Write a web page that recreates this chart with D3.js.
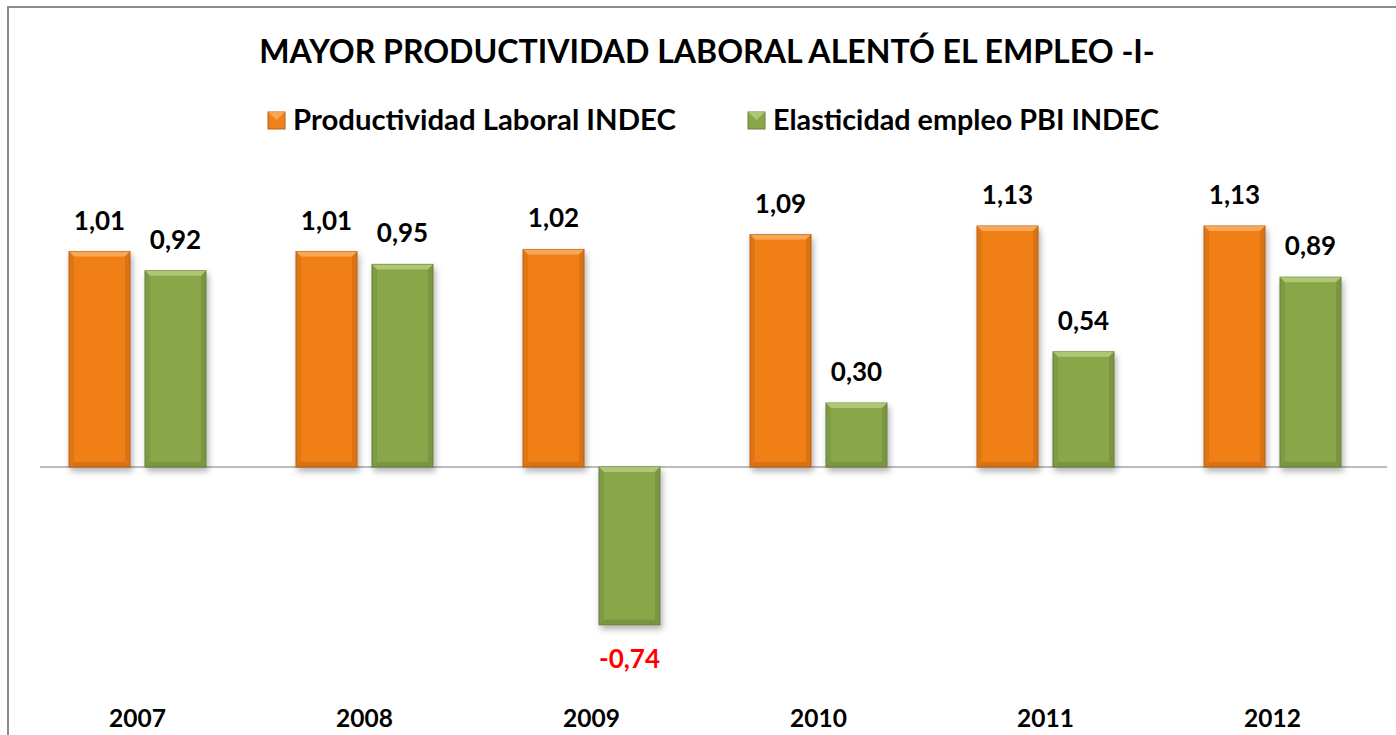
<!DOCTYPE html>
<html>
<head>
<meta charset="utf-8">
<script src="https://cdn.jsdelivr.net/npm/d3@7"></script>
<style>
  body { margin: 0; background: #fff; }
  svg { display: block; font-family: Lato, "Open Sans", sans-serif; }
</style>
</head>
<body>
<svg id="chart" width="1396" height="735"></svg>
<script>
const years = ['2007', '2008', '2009', '2010', '2011', '2012'];
const productividad = [1.01, 1.01, 1.02, 1.09, 1.13, 1.13];
const elasticidad = [0.92, 0.95, -0.74, 0.30, 0.54, 0.89];
const seriesNames = ['Productividad Laboral INDEC', 'Elasticidad empleo PBI INDEC'];
const title = 'MAYOR PRODUCTIVIDAD LABORAL ALENTÓ EL EMPLEO -I-';

const COLORS = ['#f08018', '#89a64a'];
const DARK = ['#b85f10', '#66803a'];
const LIGHT = ['#f8b068', '#b6cf80'];

const svg = d3.select('#chart');
// comma decimals, plain hyphen for negatives
const fmt = (v) => d3.format('.2f')(v).replace('.', ',').replace('\u2212', '-');

const defs = svg.append('defs');
defs.append('filter')
  .attr('id', 'shadow')
  .attr('x', '-20%').attr('y', '-20%').attr('width', '140%').attr('height', '140%')
  .append('feDropShadow')
  .attr('dx', 2).attr('dy', 4).attr('stdDeviation', 3)
  .attr('flood-color', '#000').attr('flood-opacity', 0.3);

// frame
svg.append('rect')
  .attr('x', 8).attr('y', 7).attr('width', 1420).attr('height', 760)
  .attr('fill', 'none').attr('stroke', '#8c8c8c').attr('stroke-width', 2);

const x0 = d3.scaleBand().domain(years).range([24, 1386]);
const x1 = d3.scaleBand().domain([0, 1]).range([45, 182]).paddingInner(0.197);
const y = d3.scaleLinear().domain([0, 1.13]).range([467, 226]);

const data = years.map((yr, i) => ({
  year: yr,
  values: [productividad[i], elasticidad[i]],
}));

// zero line
svg.append('line')
  .attr('x1', 40).attr('x2', 1387)
  .attr('y1', y(0)).attr('y2', y(0))
  .attr('stroke', '#a6a6a6').attr('stroke-width', 1.5);

const groups = svg.append('g')
  .selectAll('g')
  .data(data)
  .join('g')
  .attr('transform', (d) => `translate(${x0(d.year)},0)`);

const bars = groups.selectAll('g.bar')
  .data((d) => d.values.map((v, k) => ({ v, k })))
  .join('g')
  .attr('class', 'bar');

bars.each(function (d) {
  const g = d3.select(this);
  const bx = x1(d.k);
  const bw = x1.bandwidth();
  const top = Math.min(y(d.v), y(0));
  const bh = Math.abs(y(d.v) - y(0));
  const b = 5;
  g.append('rect')
    .attr('x', bx).attr('y', top).attr('width', bw).attr('height', bh)
    .attr('fill', COLORS[d.k]).attr('stroke', DARK[d.k]).attr('stroke-width', 1)
    .attr('filter', 'url(#shadow)');
  // bevel: top light, bottom dark, sides dark
  g.append('path')
    .attr('d', `M${bx},${top} H${bx + bw} L${bx + bw - b},${top + b} H${bx + b} Z`)
    .attr('fill', LIGHT[d.k]).attr('opacity', 0.8);
  g.append('path')
    .attr('d', `M${bx},${top + bh} H${bx + bw} L${bx + bw - b},${top + bh - b} H${bx + b} Z`)
    .attr('fill', DARK[d.k]).attr('opacity', 0.45);
  g.append('path')
    .attr('d', `M${bx},${top} L${bx + b},${top + b} V${top + bh - b} L${bx},${top + bh} Z`)
    .attr('fill', DARK[d.k]).attr('opacity', 0.3);
  g.append('path')
    .attr('d', `M${bx + bw},${top} L${bx + bw - b},${top + b} V${top + bh - b} L${bx + bw},${top + bh} Z`)
    .attr('fill', DARK[d.k]).attr('opacity', 0.4);

  g.append('text')
    .attr('x', bx + bw / 2)
    .attr('y', d.v >= 0 ? y(d.v) - 22 : y(d.v) + 43)
    .attr('text-anchor', 'middle')
    .attr('font-size', 26).attr('font-weight', 'bold')
    .attr('fill', d.v >= 0 ? '#000' : '#ff0000')
    .text(fmt(d.v));
});

// year labels
svg.append('g')
  .selectAll('text')
  .data(years)
  .join('text')
  .attr('x', (d) => x0(d) + x0.bandwidth() / 2)
  .attr('y', 727)
  .attr('text-anchor', 'middle')
  .attr('font-size', 24.5).attr('font-weight', 'bold')
  .text((d) => d);

// fit text to a target width
const fit = (sel, w) => {
  const len = sel.node().getComputedTextLength();
  const fs = parseFloat(sel.attr('font-size'));
  sel.attr('font-size', fs * w / len);
};

const t = svg.append('text')
  .attr('x', 707).attr('y', 63)
  .attr('text-anchor', 'middle')
  .attr('font-size', 28).attr('font-weight', 'bold')
  .text(title);
fit(t, 896);

// legend
const legendX = [268, 748];
const legendW = [383, 386];
seriesNames.forEach((name, k) => {
  const lg = svg.append('g');
  lg.append('rect')
    .attr('x', legendX[k]).attr('y', 112).attr('width', 17).attr('height', 17)
    .attr('fill', COLORS[k]).attr('stroke', DARK[k]);
  lg.append('path')
    .attr('d', `M${legendX[k]},112 h17 l-8.5,8 Z`)
    .attr('fill', LIGHT[k]).attr('opacity', 0.8);
  const lt = lg.append('text')
    .attr('x', legendX[k] + 25).attr('y', 130)
    .attr('font-size', 25).attr('font-weight', 'bold')
    .text(name);
  fit(lt, legendW[k]);
});
</script>
</body>
</html>
